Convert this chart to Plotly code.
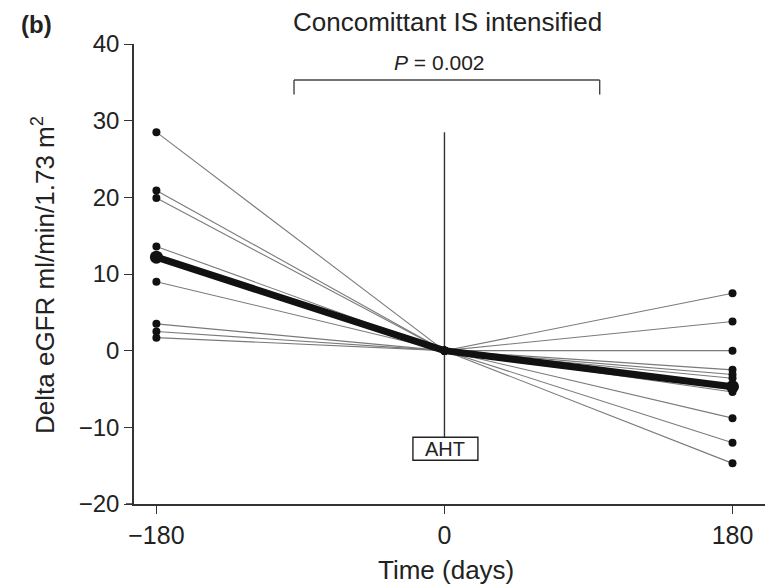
import plotly.graph_objects as go

# ---- data ----
days = [-180, 0, 180]
pre_values = [28.5, 20.9, 19.9, 13.6, 12.0, 9.0, 3.5, 2.5, 1.7]      # delta eGFR at -180 d
post_values = [7.5, 3.8, 0.0, -2.5, -3.1, -3.6, -5.0, -5.4, -8.8, -12.0, -14.7]  # delta eGFR at +180 d
mean_values = [12.2, 0.0, -4.7]
x_ticks = [-180, 0, 180]
y_ticks = [-20, -10, 0, 10, 20, 30, 40]
title_text = "Concomittant IS intensified"
p_text = "<i>P</i> = 0.002"
y_title = "Delta eGFR ml/min/1.73 m<sup>2</sup>"
x_title = "Time (days)"
panel_label = "<b>(b)</b>"
event_label = "AHT"

FONT = "Liberation Sans, Arial, sans-serif"

fig = go.Figure()

# individual patient segments
for v in pre_values:
    fig.add_trace(go.Scatter(
        x=[days[0], days[1]], y=[v, 0.0], mode="lines+markers",
        line=dict(color="#7a7a7a", width=1.1),
        marker=dict(color="#111111", size=8, line=dict(width=0)),
        showlegend=False, hoverinfo="skip"))
for v in post_values:
    fig.add_trace(go.Scatter(
        x=[days[1], days[2]], y=[0.0, v], mode="lines+markers",
        line=dict(color="#7a7a7a", width=1.1),
        marker=dict(color="#111111", size=8, line=dict(width=0)),
        showlegend=False, hoverinfo="skip"))

# mean line
fig.add_trace(go.Scatter(
    x=days, y=mean_values, mode="lines+markers",
    line=dict(color="#111111", width=7),
    marker=dict(color="#111111", size=[13, 9, 13], opacity=1, line=dict(width=0)),
    showlegend=False, hoverinfo="skip"))

# vertical line at time 0
fig.add_shape(type="line", xref="x", yref="y", x0=0, x1=0, y0=max(pre_values), y1=-11.3,
              line=dict(color="#333333", width=1.4), layer="below")

# AHT box
fig.add_shape(type="rect", xref="x", yref="y", x0=-19.7, x1=20.9, y0=-14.3, y1=-11.3,
              line=dict(color="#222222", width=1.4), fillcolor="white")
fig.add_annotation(x=0.6, y=-12.8, xref="x", yref="y", text=event_label, showarrow=False,
                   font=dict(family=FONT, size=20, color="#222222"),
                   xanchor="center", yanchor="middle")

# significance bracket
bx0, bx1, by, byl = -94, 97, 35.3, 33.4
fig.add_shape(type="line", xref="x", yref="y", x0=bx0, x1=bx1, y0=by, y1=by,
              line=dict(color="#444444", width=1.4))
fig.add_shape(type="line", xref="x", yref="y", x0=bx0, x1=bx0, y0=by, y1=byl,
              line=dict(color="#444444", width=1.4))
fig.add_shape(type="line", xref="x", yref="y", x0=bx1, x1=bx1, y0=by, y1=byl,
              line=dict(color="#444444", width=1.4))
fig.add_annotation(x=-3, y=37.6, xref="x", yref="y", text=p_text, showarrow=False,
                   font=dict(family=FONT, size=21, color="#222222"),
                   xanchor="center", yanchor="middle")

# title and panel label
fig.add_annotation(x=(447 - 134) / 631, y=(504 - 22) / 460, xref="paper", yref="paper",
                   text=title_text, showarrow=False,
                   font=dict(family=FONT, size=26, color="#222222"),
                   xanchor="center", yanchor="middle")
fig.add_annotation(x=(36 - 134) / 631, y=(504 - 24) / 460, xref="paper", yref="paper",
                   text=panel_label, showarrow=False,
                   font=dict(family=FONT, size=24, color="#222222"),
                   xanchor="center", yanchor="middle")

# axis titles
fig.add_annotation(x=(43 - 134) / 631, y=(504 - 275) / 460, xref="paper", yref="paper",
                   text=y_title, showarrow=False, textangle=-90,
                   font=dict(family=FONT, size=26, color="#222222"),
                   xanchor="center", yanchor="middle")
fig.add_annotation(x=(446 - 134) / 631, y=(504 - 570) / 460, xref="paper", yref="paper",
                   text=x_title, showarrow=False,
                   font=dict(family=FONT, size=26, color="#222222"),
                   xanchor="center", yanchor="middle")

# slight extension of x-axis line to the left
fig.add_shape(type="line", xref="paper", yref="paper", x0=-8 / 631, x1=0, y0=0, y1=0,
              line=dict(color="#333333", width=1.5))

fig.update_xaxes(range=[-194, 200.3], tickvals=x_ticks,
                 ticktext=[str(t).replace("-", "\u2212") for t in x_ticks],
                 showline=True, linecolor="#333333", linewidth=1.5,
                 ticks="outside", ticklen=8, tickwidth=1.4, tickcolor="#333333",
                 showgrid=False, zeroline=False,
                 tickfont=dict(family=FONT, size=25, color="#222222"))
fig.update_yaxes(range=[-20, 40], tickvals=y_ticks,
                 ticktext=[str(t).replace("-", "\u2212") for t in y_ticks],
                 showline=True, linecolor="#333333", linewidth=1.5,
                 ticks="outside", ticklen=8, tickwidth=1.4, tickcolor="#333333",
                 showgrid=False, zeroline=False,
                 tickfont=dict(family=FONT, size=24, color="#222222"))

fig.update_layout(width=770, height=588, margin=dict(l=134, r=5, t=44, b=84),
                  paper_bgcolor="white", plot_bgcolor="white", showlegend=False)

fig.write_html("out.html")
